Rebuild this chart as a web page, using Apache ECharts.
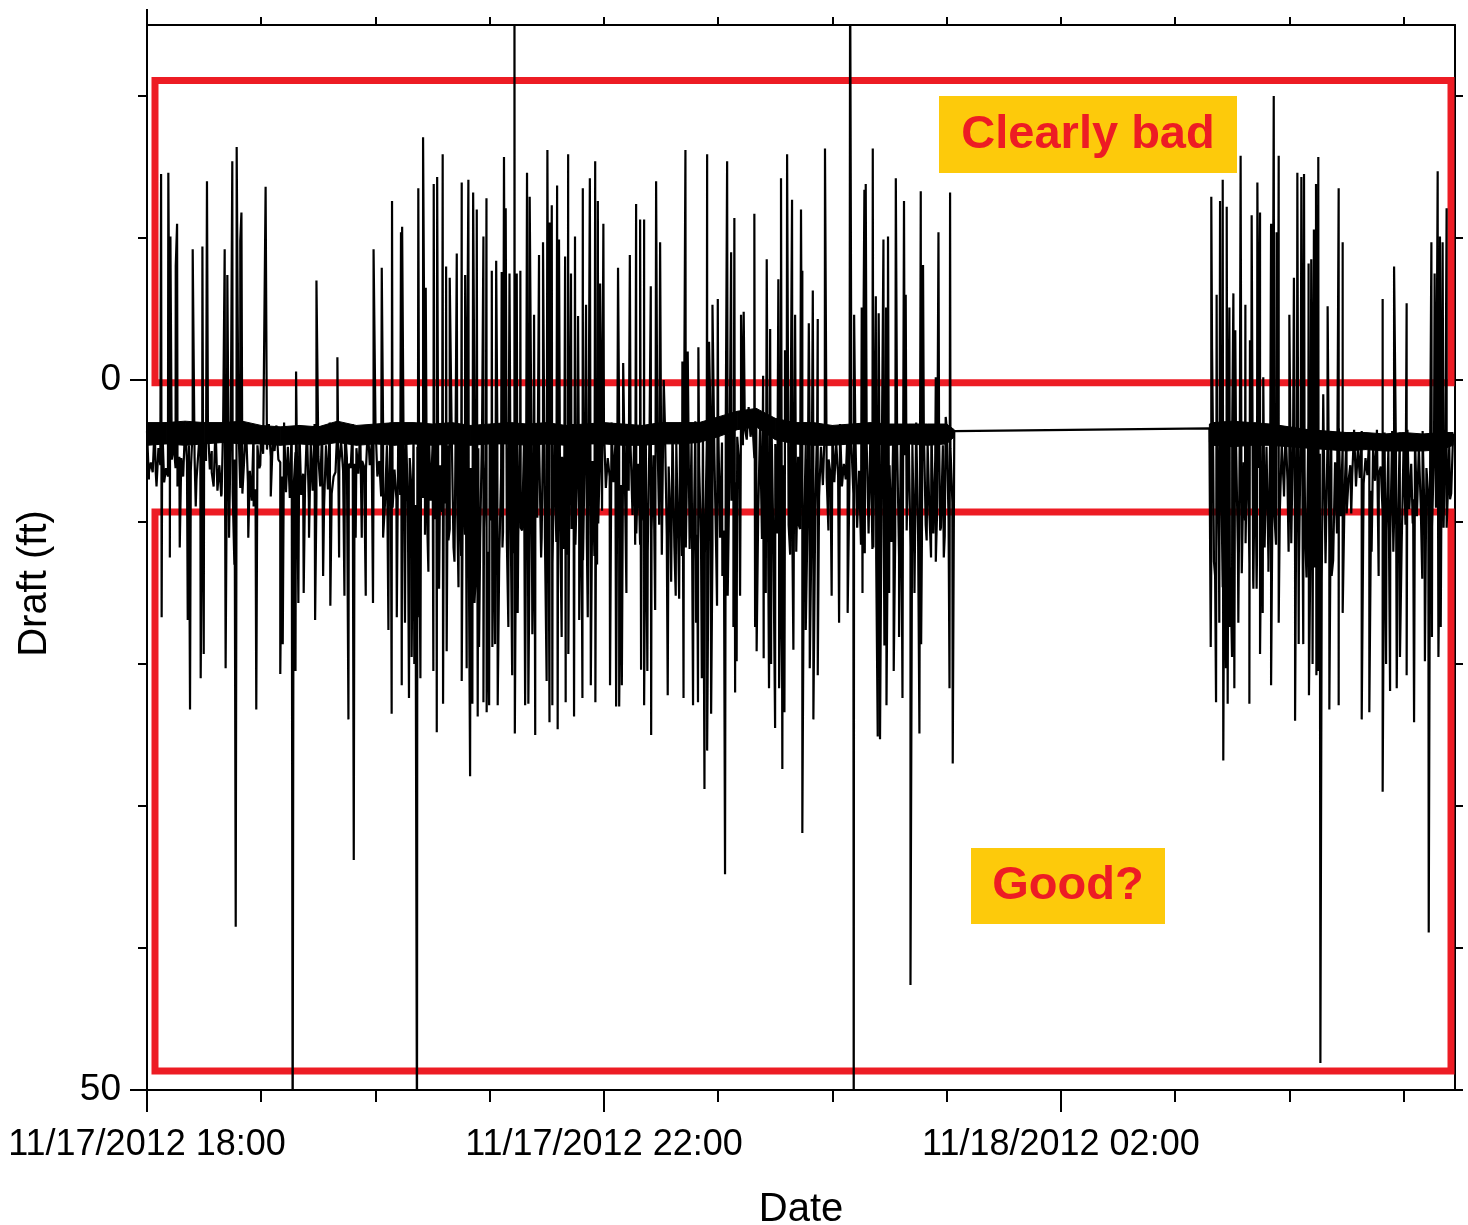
<!DOCTYPE html>
<html>
<head>
<meta charset="utf-8">
<title>Draft</title>
<script src="https://cdn.jsdelivr.net/npm/echarts@6/dist/echarts.min.js"></script>
<style>
  html, body { margin: 0; padding: 0; background: #fff; }
  #c_chart { width: 1468px; height: 1225px; }
</style>
</head>
<body>
<div id="c_chart"></div>
<script>
// time is minutes after 11/17/2012 18:00, draft in ft
const xTickLabels = ['11/17/2012 18:00', '11/17/2012 22:00', '11/18/2012 02:00']
const xLabelMinutes = [0, 240, 480]
const xMinorMinutes = [60, 120, 180, 300, 360, 420, 540, 600, 660]
const xHourMinutes = [60, 120, 180, 240, 300, 360, 420, 480, 540, 600, 660]
const yLabelValues = [0, 50]
const yTickValues = [-20, -10, 0, 10, 20, 30, 40, 50]

// noise band, one reading every 2 min (even minutes)
const bandStep = 2
const bandStartA = 0
const bandA = [
  3.6, 5.8, 3.2, 4.8, 3.1, 6.2, 3.3, 4.5, 3.0, 5.5,
  3.2, 4.6, 3.4, 7.0, 3.1, 4.4, 3.3, 5.0, 3.2, 6.0,
  3.0, 4.5, 3.3, 5.6, 3.1, 4.3, 3.2, 6.4, 3.4, 4.6,
  3.3, 5.2, 3.1, 4.4, 3.2, 5.8, 3.0, 4.7, 3.3, 5.1,
  3.2, 6.6, 3.4, 4.5, 3.1, 5.4, 3.3, 4.6, 3.0, 6.8,
  3.2, 4.4, 3.3, 5.9, 3.1, 4.8, 3.4, 6.1, 3.2, 4.5,
  3.1, 5.7, 3.3, 4.6, 3.0, 6.3, 3.2, 4.4, 3.3, 5.5,
  3.2, 4.7, 3.0, 5.8, 3.3, 4.5, 3.1, 6.0, 3.2, 4.6,
  3.4, 5.3, 3.1, 4.4, 3.3, 6.2, 3.0, 4.8, 3.2, 5.6,
  3.1, 4.5, 3.3, 6.5, 3.2, 4.6, 3.0, 5.2, 3.3, 4.4,
  3.2, 5.9, 3.1, 4.7, 3.3, 6.0, 3.2, 4.5, 3.0, 5.4,
  3.3, 4.6, 3.1, 6.3, 3.2, 4.4, 3.4, 5.7, 3.1, 4.6,
  3.2, 5.5, 3.0, 4.5, 3.3, 6.6, 3.1, 4.7, 3.2, 5.9,
  3.3, 4.4, 3.1, 5.3, 3.2, 4.6, 3.0, 6.1, 3.3, 4.5,
  3.1, 5.6, 3.2, 4.4, 2.9, 6.0, 3.1, 4.6, 3.0, 5.2,
  2.8, 4.4, 2.6, 5.5, 2.4, 4.0, 2.1, 3.4, 1.9, 3.0,
  2.0, 3.2, 2.3, 5.8, 2.8, 4.5, 3.0, 6.0, 3.2, 4.6,
  3.1, 5.4, 3.3, 4.5, 3.2, 6.2, 3.0, 4.7, 3.3, 5.6,
  3.2, 4.4, 3.1, 5.9, 3.3, 4.6, 3.2, 6.4, 3.0, 4.5,
  3.3, 5.1, 3.1, 4.4, 3.2, 6.0, 3.3, 4.6, 3.1, 5.3,
  3.2, 4.5, 3.0, 5.8, 3.3, 4.4, 3.1, 5.6, 3.2, 4.6,
  3.3, 4.8, 3.6
]
const bandStartB = 558
const bandB = [
  3.4, 5.5, 3.2, 4.6, 3.0, 6.0, 3.3, 4.5, 3.1, 5.8,
  3.2, 4.4, 3.0, 6.2, 3.3, 4.7, 3.1, 5.4, 3.2, 4.5,
  3.3, 5.9, 3.1, 4.6, 3.2, 6.3, 3.0, 4.4, 3.3, 5.2,
  3.5, 4.6, 3.6, 5.8, 3.4, 4.5, 3.7, 6.0, 3.5, 4.7,
  3.6, 5.5, 3.8, 4.6, 3.5, 6.1, 3.7, 4.8, 3.6, 5.3,
  3.7, 4.6, 3.5, 5.9, 3.8, 4.7, 3.6, 6.2, 3.7, 4.5,
  3.6, 5.4, 3.5, 4.6, 3.8
]

// short dips under the band, one reading every 2 min (odd minutes)
const dipStartA = 1
const dipA = [
  7.0, 6.5, 7.5, 6.0, 7.2, 6.8,
  5.6, 6.2, 5.4, 6.8, 5.8, 6.4, 5.5, 6.9, 6.0, 5.7, 6.3, 7.5,
  7.8, 8.2, 7.5, 8.6, 7.9, 8.4, 7.6, 8.0, 7.2, 8.5, 7.7, 6.2,
  5.2, 4.9, 5.4, 5.0, 5.6, 6.8,
  7.9, 8.3, 7.6, 8.8, 8.1, 7.4, 8.6, 7.8, 8.2, 7.5, 8.9, 7.7, 8.0, 6.5,
  5.8, 6.4, 5.5, 6.2, 5.9, 6.6, 5.7, 6.3, 6.0, 5.6, 6.8,
  8.2, 8.7, 7.9, 9.0, 8.4, 8.1, 9.2, 8.6, 8.0, 8.8, 9.5, 8.3, 9.1, 8.5, 9.8, 8.9, 9.3, 8.7,
  10.5, 11.8, 9.6, 12.4, 10.9, 11.5, 9.8, 12.8, 11.2, 10.4, 12.1, 9.9, 11.6, 12.6, 10.7, 11.3, 9.5, 12.2, 11.0, 10.6,
  12.0, 10.8, 11.7, 9.7, 12.5, 11.1, 10.3, 12.9, 11.4, 10.0, 11.9, 12.3, 10.5, 11.6, 9.8, 12.7, 11.2, 10.9, 12.4, 10.1,
  9.2, 7.6, 6.8, 7.2, 6.5, 7.4, 6.9, 7.8, 9.5, 10.8, 11.6, 9.9, 12.1, 10.6, 11.4, 10.2, 12.3, 11.0, 10.4, 11.8,
  11.2, 12.4, 10.7, 11.9, 12.8, 10.9, 11.5, 12.2, 10.3, 11.7, 12.5, 11.1, 10.6, 9.8, 8.5, 7.2, 5.8, 4.6, 4.2, 4.0,
  5.5, 9.6, 11.2, 10.4, 12.0, 11.5, 10.8, 12.3, 11.0, 10.2, 11.7, 12.1, 10.5, 11.3, 9.4, 10.8, 9.0, 8.2, 7.4, 6.9,
  6.6, 7.2, 6.8, 7.5, 7.0, 6.7, 8.0, 10.4, 11.6, 12.2, 10.8, 11.9, 12.6, 11.3, 10.5, 12.0, 11.4, 10.9, 12.4, 11.1,
  10.6, 11.8, 12.3, 10.9, 11.5, 10.2, 9.6, 10.8, 9.2, 10.4, 11.0, 9.8, 8.6
]
const dipStartB = 559
const dipB = [
  12.5, 13.8, 11.9, 14.6, 12.8, 13.2, 14.9, 12.2, 13.6, 11.5, 12.9, 14.1, 12.4, 13.5, 11.8, 12.7, 10.9, 11.6, 9.2, 7.4,
  7.0, 11.5, 12.8, 13.6, 12.1, 13.9, 12.6, 13.2, 11.8, 14.2, 12.9, 11.4, 12.7, 10.8, 9.6, 8.1, 7.2, 6.8, 7.5, 6.9,
  7.3, 6.7, 7.8, 7.1, 6.6, 9.4, 10.6, 11.2, 9.8, 10.9, 11.5, 10.2, 9.1, 8.4, 9.6, 8.8, 9.9, 8.2, 10.3, 9.0,
  9.7, 10.4, 8.9, 8.0
]

// solid core of the noise band: upper and lower edge
const edgeTimesA = [0, 10, 20, 30, 40, 50, 60, 70, 80, 90, 100, 110, 120, 130, 140, 150, 160, 170, 180, 190,
  200, 210, 220, 230, 240, 250, 260, 270, 280, 290, 300, 310, 320, 330, 340, 350, 360, 370, 380, 390,
  400, 410, 420, 424]
const edgeTopA = [3.0, 3.0, 2.9, 3.0, 3.0, 2.9, 3.2, 3.3, 3.2, 3.3, 2.9, 3.2, 3.1, 3.0, 3.0, 3.1, 3.0, 3.2, 3.1, 3.0,
  3.1, 3.0, 3.2, 3.1, 3.0, 3.1, 3.2, 3.0, 3.0, 3.0, 2.6, 2.2, 2.0, 2.7, 3.0, 3.0, 3.2, 3.1, 3.0, 3.1,
  3.1, 3.1, 3.1, 3.5]
const edgeBottomA = [4.6, 4.5, 4.6, 4.5, 4.4, 4.5, 4.5, 4.6, 4.5, 4.6, 4.4, 4.6, 4.5, 4.6, 4.5, 4.6, 4.5, 4.6, 4.5, 4.5,
  4.6, 4.5, 4.6, 4.5, 4.5, 4.6, 4.6, 4.5, 4.5, 4.4, 4.0, 3.5, 3.3, 4.2, 4.5, 4.6, 4.6, 4.5, 4.5, 4.6,
  4.5, 4.6, 4.5, 4.0]
const edgeTimesB = [558, 560, 570, 580, 590, 600, 610, 620, 630, 640, 650, 660, 670, 680, 686]
const edgeTopB = [3.1, 3.0, 2.9, 3.0, 3.1, 3.3, 3.5, 3.6, 3.7, 3.7, 3.8, 3.7, 3.8, 3.7, 3.7]
const edgeBottomB = [4.4, 4.6, 4.7, 4.6, 4.6, 4.7, 4.8, 4.9, 5.0, 4.9, 5.0, 5.0, 5.0, 4.9, 4.6]

// spikes above the band [minute, ft]
const upSpikes = [
  [7.4, -14.5], [11.2, -14.6], [12.3, -10.1], [15.1, -8], [15.8, -11], [24, -9.2], [29.1, -9.4],
  [31.5, -14], [40.8, -9.2], [42.2, -7.4], [44.8, -15.4], [47.1, -16.4], [49, -9.8], [49.6, -11.8],
  [62.3, -13.6], [78.3, -0.6], [89, -7], [100, -1.6], [119, -9.2], [123.3, -7.9], [128.7, -12.6],
  [133.4, -10.4], [134, -10.8],
  [142.5, -13.5], [145, -17.1], [146.4, -6.5], [150.6, -13.8], [152.4, -14.3], [155.3, -15.9],
  [157.1, -8], [159, -7.2], [162.7, -8.9], [165.3, -13.9], [167.1, -7.4], [168.8, -14.1],
  [171.3, -13.2], [173.2, -12], [176.7, -10.1], [178.3, -12.8], [181.1, -7.7], [183.4, -8.4],
  [186.3, -7.6], [187.5, -15.7], [188.4, -12.1], [190.4, -7.5], [193, -30], [194.2, -7.5],
  [196.1, -7.7], [199.6, -14.6], [201, -12.9], [203.3, -4.6], [205.9, -8.8], [208, -9.7],
  [210.3, -16.2], [211.5, -11.1], [212.6, -12.3], [215.4, -13.7], [216.4, -9.9], [219.6, -8.7],
  [221.2, -15.9], [222.7, -7.5], [224.8, -10.1], [226.4, -4.5], [228.9, -13.5], [230.6, -5.3],
  [232.6, -14.2], [235.4, -15.4], [236.8, -12.6], [238, -6.8], [239.7, -11], [247.4, -7.9],
  [250.1, -1.2], [253.6, -8.8], [256.9, -12.4], [259, -11.3], [261.1, -11.3], [264.6, -6.6],
  [267.4, -14], [269.5, -9.7], [271.4, 0], [281.2, -1.3],
  [282.8, -16.2], [284, -2], [289.6, -2.3], [294.2, -15.9], [295.2, -2.7], [297, -5.3],
  [299.8, -5.7], [304.7, -15.4], [306.8, -9], [308.5, -11.4], [312, -4.6], [313.4, -4.8],
  [319, -11.7], [323.6, -0.3], [325.5, -8.5], [327.3, -3.6], [331.6, -7.1], [333, -14.2],
  [335.1, -2.1], [336.2, -15.9], [338.8, -12.7], [340.4, -4.6], [343.5, -12], [344.2, -7.7],
  [347.6, -4], [349.7, -6.3], [352.3, -4.3], [356.1, -16.3], [369.3, -30], [371.4, -4.6],
  [375.4, -5.1], [376.8, -13.4], [377.5, -13.8], [381.2, -16.3], [382.8, -5.9], [384.3, -4.7],
  [386.8, -9.9], [388.2, -5.1], [389.2, -10.1], [393.3, -14.2], [397.6, -12.6], [398.5, -6],
  [406.4, -13.3], [407.6, -8.1], [414.3, -0.2], [415.7, -10.4], [419.5, 2.6], [421.8, -13.2],
  [559, -12.9], [559.4, -2.2], [561.8, -6], [563.6, -12.6], [565, -14.1], [567.1, -12.2],
  [568.5, -5.1], [570.6, -6.1], [571.6, -3.5], [574.4, -15.8], [576.9, -5.3], [579.3, -2.8],
  [580.2, -11.6], [583.2, -13.9], [584.6, -11.8], [586.3, -0.2], [590.4, -11], [591.8, -20],
  [593.3, -10.4], [594.4, -15.8], [600, -4.6], [602.4, -7.2], [604.2, -14.6], [606.3, -14.3],
  [607.7, -14.5], [610.1, -8.2], [611.5, -8.5], [612.9, -10.6], [614, -13.8], [615.2, -15.7],
  [617.8, 1], [620.1, -5.2], [625.9, -13.5], [628, -9.7], [649, -5.7], [655, -8], [661.6, -5.4],
  [674.6, -9.7], [676.3, -7.5], [677.9, -14.7], [679.1, -10.1], [680.5, -9.7], [682.6, -12.1]
]

// spikes below the band [minute, ft]
const downSpikes = [
  [1, 6.5], [4.6, 6.5], [7.7, 16.7], [12, 12.5], [16, 7.5], [17.2, 11.8], [21.4, 16.9],
  [22.6, 23.2], [25.6, 8.9], [28.2, 21], [29.8, 19.3], [34, 6.5], [39.2, 8], [41.3, 20.3],
  [43.1, 11.1], [45.9, 13], [46.6, 38.5], [50.1, 8], [53.2, 11.1], [56, 8.9], [57.4, 23.2],
  [59.5, 6], [65, 8.2], [70, 20.7], [71.3, 18.6], [76.5, 55], [78, 20.5], [79.5, 15.7],
  [82.3, 15], [85.1, 11.1], [88.3, 16.9], [92.5, 13.8], [96.3, 15.9], [100.9, 12.5],
  [103.7, 15.2], [105.8, 23.9], [108.6, 33.8], [109.6, 11.1], [112.8, 11.1], [114.9, 15.2],
  [118.7, 15.7], [124, 11.1], [126.8, 17.6], [128.5, 23.5], [131.2, 16.7], [133.8, 21.5],
  [135.5, 17.1], [137.6, 22.4], [139, 19.5], [140.4, 20],
  [141.8, 55], [142.2, 16.7], [143.6, 21], [146, 10.9], [147.8, 13.5], [150.4, 20.5],
  [152.2, 24.8], [153.4, 14.7], [155.5, 22.8], [157.4, 19.1], [158.3, 11.3], [161.5, 12.8],
  [163.6, 14.6], [165.3, 21.2], [167.9, 20.3], [169.7, 27.9], [170.9, 22.8], [172, 15.7],
  [173.7, 23.7], [174.4, 18.8], [176.7, 22.7], [178.4, 23.4], [179.7, 22.9], [181.4, 18.8],
  [182.8, 18.6], [184.2, 22.9], [186.7, 11.8], [189.8, 17.4], [191.8, 20.8], [193.2, 24.9],
  [194.7, 16.4], [196.3, 10.4], [198.6, 22.9], [200.3, 22.8], [202.4, 17.9], [203.9, 25],
  [207.3, 11.1], [209.9, 21.2], [211.4, 24.1], [212.9, 22.9], [215.7, 24.6], [217.8, 18.1],
  [219.9, 22.7], [221.3, 19.3], [224.3, 23.7], [227, 16.9], [228.7, 22.4], [231.5, 16.7],
  [233.1, 21.5], [235.5, 22.7], [236.4, 13], [243.2, 21.5], [246.4, 23], [248, 23],
  [249.4, 21.5], [251.8, 15], [256.4, 11.6], [259.5, 20.4], [261.1, 22.9], [262.8, 20.5],
  [264.8, 25], [266.9, 16.2], [270.4, 12.3], [273.5, 22.2], [275.3, 14.2], [277.7, 15.2],
  [279.5, 15.4], [281.8, 22.4],
  [283, 11.8], [285.2, 10.6], [286.8, 22.9], [288.4, 17.1], [289.4, 22.7], [291.4, 21],
  [292.8, 28.8], [294.2, 26.1], [296.3, 23.5], [299.4, 15.9], [302.2, 13.8], [303.6, 34.8],
  [305, 15.2], [308, 17.4], [308.9, 22], [309.7, 19.8], [311.5, 15.2], [319.4, 17.4],
  [320.2, 19.1], [323.9, 19.6], [325, 15], [326.7, 21.7], [327.8, 20], [329.9, 24.5],
  [332, 21.7], [333.7, 27.4], [334.8, 23.4], [337.8, 12.3], [339.5, 19], [342.1, 10.1],
  [344.2, 31.9], [346, 17.6], [348.1, 20.3], [350, 23.9], [352.3, 20.8], [357.9, 10.6],
  [359.6, 15.2], [363.5, 17.1], [368, 16.4], [371.2, 55], [375.8, 15], [381.5, 11.8],
  [383.8, 25.1], [385, 25.3], [387.3, 18.7], [388.4, 22.9], [389.8, 15], [392.2, 20.5],
  [395, 18.1], [396.8, 22.4], [401, 42.6], [403.1, 15], [405.7, 24.9], [406.6, 18.6],
  [409.5, 11.3], [411.8, 12.5], [414.3, 12.8], [416.6, 10.6], [418.5, 12.5], [421.5, 21.7],
  [423.2, 27],
  [558.7, 18.8], [560.4, 12.8], [561.5, 22.7], [563.2, 17.1], [565.3, 26.8], [566.7, 20.3],
  [567.6, 22.8], [568.8, 17.4], [569.9, 19.5], [571.1, 21.7], [573.2, 17.1], [574.9, 11.1],
  [576.7, 9.9], [579, 22.8], [581.1, 14.7], [582.8, 14.7], [584.6, 19.3], [586, 16.4],
  [589, 13.5], [590.4, 21.5], [592.1, 9.4], [594.4, 17.1], [597.2, 8.2], [599.6, 12.1],
  [603, 24], [603.5, 11.6], [604.9, 18.6], [607.3, 18.6], [608.4, 11.3], [610.3, 22.2],
  [612.2, 20], [614.2, 20.8], [615.4, 20.5], [616.3, 48.1], [621, 23.2], [622.2, 13.8],
  [625.9, 22.9], [628, 16.4], [630.1, 9.4], [632.5, 9.4], [638, 23.9], [642, 23.4],
  [643.2, 12.1], [646.9, 13.8], [649, 29], [650.8, 20], [652.9, 21.9], [654.6, 12.1],
  [656.4, 21.7], [658.1, 19.5], [661.6, 20.8], [664.8, 10.1], [665.5, 24.1], [669.8, 14],
  [671.2, 19.8], [673.2, 38.9], [674.9, 18.1], [678.3, 19.5], [679.5, 17.4], [682.6, 10.4],
  [684.4, 8.4]
]

// annotation boxes [minFrom, ftFrom, minTo, ftTo]
const badBox = [4.2, -21.1, 684.9, 0.2]
const goodBox = [4.2, 9.3, 684.9, 48.66]

const FONT = '"Liberation Sans", Arial, Helvetica, sans-serif'
const RED = '#ED1C24'
const YELLOW = '#FDCA0B'

const points = []
bandA.forEach((v, i) => points.push([bandStartA + i * bandStep, v]))
bandB.forEach((v, i) => points.push([bandStartB + i * bandStep, v]))
dipA.forEach((v, i) => points.push([dipStartA + i * bandStep, v]))
dipB.forEach((v, i) => points.push([dipStartB + i * bandStep, v]))
upSpikes.forEach(p => points.push(p))
downSpikes.forEach(p => points.push(p))
points.sort((a, b) => a[0] - b[0])

// band core rows: [minute, top, bottom, segment]
const coreRows = []
edgeTimesA.forEach((t, i) => coreRows.push([t, edgeTopA[i], edgeBottomA[i], 0]))
edgeTimesB.forEach((t, i) => coreRows.push([t, edgeTopB[i], edgeBottomB[i], 1]))

function renderCore (params, api) {
  const i = params.dataIndex
  const a = coreRows[i]
  const b = coreRows[i + 1]
  if (!b || b[3] !== a[3]) return
  const pts = [
    api.coord([a[0], a[1]]), api.coord([b[0], b[1]]),
    api.coord([b[0], b[2]]), api.coord([a[0], a[2]])
  ]
  return {
    type: 'polygon',
    shape: { points: pts },
    style: { fill: '#000', stroke: '#000', lineWidth: 1 }
  }
}

function boxArea (b) {
  return [{ coord: [b[0], b[1]] }, { coord: [b[2], b[3]] }]
}

const Chart1 = echarts.init(document.getElementById('c_chart'))
const xBase = { type: 'value', min: 0, max: 687, splitLine: { show: false } }
const yBase = { type: 'value', min: -25, max: 50, inverse: true, splitLine: { show: false } }
const axisLine = { show: true, onZero: false, lineStyle: { color: '#000', width: 2 } }
const noLine = { show: false, onZero: false }

const option = {
  animation: false,
  grid: { left: 147, right: 13, top: 25, bottom: 135, containLabel: false, outerBoundsMode: 'none' },
  xAxis: [
    Object.assign({}, xBase, {
      position: 'bottom',
      axisLine: axisLine,
      axisTick: { show: true, customValues: xMinorMinutes, length: 12, lineStyle: { color: '#000', width: 2 } },
      axisLabel: { show: false }
    }),
    Object.assign({}, xBase, {
      position: 'bottom',
      name: 'Date',
      nameLocation: 'middle',
      nameGap: 100,
      nameTextStyle: { fontFamily: FONT, fontSize: 40, color: '#000' },
      axisLine: noLine,
      axisTick: { show: true, customValues: xLabelMinutes, length: 22, lineStyle: { color: '#000', width: 2 } },
      axisLabel: {
        show: true,
        customValues: xLabelMinutes,
        margin: 37,
        fontFamily: FONT,
        fontSize: 36,
        color: '#000',
        formatter: v => xTickLabels[xLabelMinutes.indexOf(v)]
      }
    }),
    Object.assign({}, xBase, {
      position: 'top',
      axisLine: axisLine,
      axisTick: { show: true, customValues: xHourMinutes, length: 8, lineStyle: { color: '#000', width: 2 } },
      axisLabel: { show: false }
    })
  ],
  yAxis: [
    Object.assign({}, yBase, {
      position: 'left',
      name: 'Draft (ft)',
      nameLocation: 'middle',
      nameGap: 92,
      nameRotate: 90,
      nameTextStyle: { fontFamily: FONT, fontSize: 40, color: '#000', padding: [0, 52, 0, 0] },
      axisLine: axisLine,
      axisTick: { show: true, customValues: yLabelValues, length: 17, lineStyle: { color: '#000', width: 2 } },
      axisLabel: { show: true, customValues: yLabelValues, margin: 26, fontFamily: FONT, fontSize: 37, color: '#000' }
    }),
    Object.assign({}, yBase, {
      position: 'left',
      axisLine: noLine,
      axisTick: { show: true, customValues: yTickValues, length: 9, lineStyle: { color: '#000', width: 2 } },
      axisLabel: { show: false }
    }),
    Object.assign({}, yBase, {
      position: 'right',
      axisLine: axisLine,
      axisTick: { show: true, customValues: yTickValues, length: 8, lineStyle: { color: '#000', width: 2 } },
      axisLabel: { show: false }
    })
  ],
  series: [{
    name: 'core',
    type: 'custom',
    renderItem: renderCore,
    data: coreRows,
    encode: { x: 0, y: [1, 2] },
    silent: true,
    z: 1
  }, {
    name: 'Draft',
    type: 'line',
    data: points,
    showSymbol: false,
    symbol: 'none',
    clip: true,
    lineStyle: { color: '#000', width: 2.2 },
    z: 2
  }, {
    name: 'boxes',
    type: 'line',
    data: [],
    z: 5,
    markArea: {
      silent: true,
      label: { show: false },
      itemStyle: { color: 'rgba(0,0,0,0)', borderColor: RED, borderWidth: 7 },
      data: [boxArea(badBox), boxArea(goodBox)]
    }
  }],
  graphic: [
    { type: 'line', shape: { x1: 147, y1: 9, x2: 147, y2: 25 }, style: { stroke: '#000', lineWidth: 2 }, silent: true },
    { type: 'rect', shape: { x: 939, y: 96, width: 298, height: 77 }, style: { fill: YELLOW }, z: 10, silent: true },
    {
      type: 'text', x: 1088, y: 135, z: 11, silent: true,
      style: { text: 'Clearly bad', fill: RED, font: 'bold 47px ' + FONT, align: 'center', verticalAlign: 'middle' }
    },
    { type: 'rect', shape: { x: 971, y: 848, width: 194, height: 76 }, style: { fill: YELLOW }, z: 10, silent: true },
    {
      type: 'text', x: 1068, y: 886, z: 11, silent: true,
      style: { text: 'Good?', fill: RED, font: 'bold 47px ' + FONT, align: 'center', verticalAlign: 'middle' }
    }
  ]
}
Chart1.setOption(option, true)
window.addEventListener('resize', function () {
  Chart1.resize()
})
</script>
</body>
</html>
